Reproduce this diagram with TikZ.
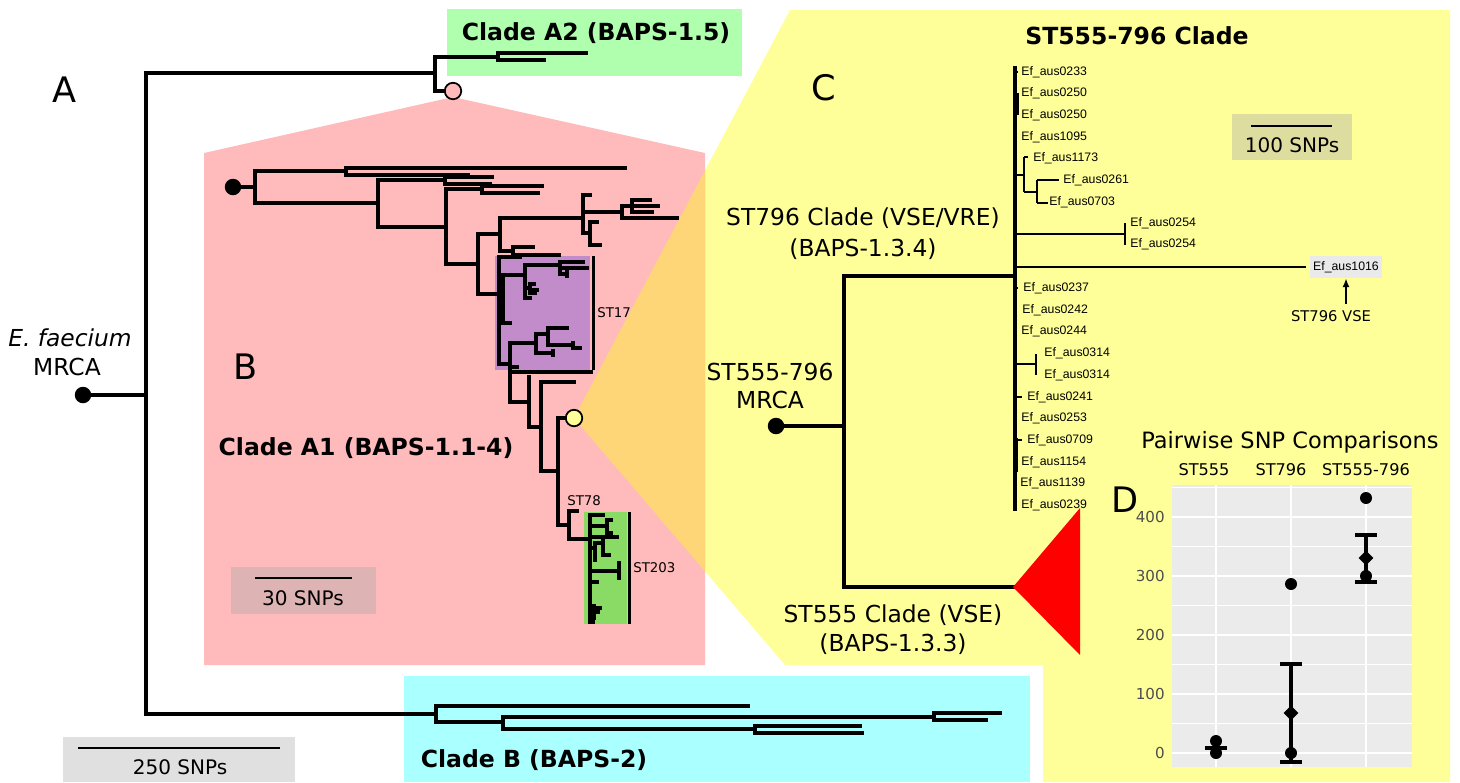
\documentclass[tikz,border=0pt]{standalone}
\usepackage{fontspec}
\setmainfont{DejaVu Sans}
\newfontfamily\liberfont{Liberation Sans}
\usetikzlibrary{arrows.meta,shapes.geometric}
\definecolor{yel}{HTML}{FFFF99}
\definecolor{pinkA}{HTML}{FFBBBB}
\definecolor{orangeA}{HTML}{FED678}
\definecolor{greenA}{HTML}{AFFFAF}
\definecolor{cyanB}{HTML}{AAFFFF}
\definecolor{purpleA}{HTML}{C28CCB}
\definecolor{greenB}{HTML}{8ADB66}
\definecolor{scaleW}{HTML}{E0E0E0}
\definecolor{scaleP}{HTML}{DDB3B3}
\definecolor{scaleY}{HTML}{DEDDA0}
\definecolor{panelD}{HTML}{EBEBEB}
\definecolor{tickD}{HTML}{4D4D4D}
\definecolor{boxE}{HTML}{EAEAEA}
\begin{document}
\begin{tikzpicture}[x=0.02cm,y=-0.02cm,
  brA/.style={line width=1.9pt, line cap=rect},
  brB/.style={line width=1.9pt, line cap=rect},
  brC/.style={line width=1.9pt, line cap=rect},
  brD/.style={line width=1.8pt, line cap=rect},
  dotnode/.style={circle, fill=black, inner sep=0pt, minimum size=0.33cm},
  ringnode/.style={circle, draw=black, line width=1pt, inner sep=0pt, minimum size=0.33cm},
  big/.style={font=\fontsize{13.3}{16}\selectfont, align=center},
  bigb/.style={font=\fontsize{13.4}{16}\selectfont\bfseries},
  letter/.style={font=\fontsize{20}{24}\selectfont},
  scl/.style={font=\fontsize{11.4}{13}\selectfont},
  small/.style={font=\fontsize{7.6}{9}\selectfont},
  ef/.style={font=\liberfont\fontsize{7}{8}\selectfont, anchor=west, inner sep=0pt},
  ptD/.style={circle, fill=black, inner sep=0pt, minimum size=0.24cm},
  diaD/.style={diamond, fill=black, inner sep=0pt, minimum size=0.3cm},
  tickl/.style={font=\fontsize{8.6}{10}\selectfont, text=tickD, anchor=east, inner sep=0pt}
]
\useasboundingbox (0,0) rectangle (1460,782);
% ---------- backgrounds ----------
\fill[yel] (790,10) -- (1450,10) -- (1450,782) -- (1043,782) -- (1043,665) -- (785,665) -- (574,418) -- cycle;
\fill[pinkA] (204,153) -- (453,97) -- (705,153) -- (705,665) -- (204,665) -- cycle;
\begin{scope}
  \clip (204,153) -- (453,97) -- (705,153) -- (705,665) -- (204,665) -- cycle;
  \fill[orangeA] (790,10) -- (1450,10) -- (1450,782) -- (1043,782) -- (1043,665) -- (785,665) -- (574,418) -- cycle;
\end{scope}
\fill[greenA] (447,9) rectangle (742,76);
\fill[cyanB] (404,676) rectangle (1030,782);
\fill[purpleA] (495,256) rectangle (590,370);
\fill[greenB] (584,512) rectangle (627,624);
\fill[scaleW] (63,737) rectangle (295,782);
\fill[scaleP] (231,567) rectangle (376,614);
\fill[scaleY] (1232,114) rectangle (1352,160);
\fill[panelD] (1172,485) rectangle (1412,767);
% panel D grid
\foreach \v in {50,150,250,350,450} \draw[white, line width=0.4pt] (1172,{753-0.59*\v}) -- (1412,{753-0.59*\v});
\foreach \v in {0,100,200,300,400} \draw[white, line width=0.9pt] (1172,{753-0.59*\v}) -- (1412,{753-0.59*\v});
\foreach \xx in {1216,1291,1366} \draw[white, line width=0.9pt] (\xx,485) -- (\xx,767);
% ---------- labels ----------
\node[letter] (labA) at (65,90) {A};
\node[letter] (labB) at (246,367) {B};
\node[letter] (labC) at (824,88) {C};
\node[letter] (labD) at (1125,500) {D};
\node[big] (efa) at (70,338) {\textit{E. faecium}};
\node[big] (efm) at (67,367) {MRCA};
\node[bigb] (cA2) at (596,33) {Clade A2 (BAPS-1.5)};
\node[bigb] (cA1) at (366,448) {Clade A1 (BAPS-1.1-4)};
\node[bigb] (cB) at (534,760) {Clade B (BAPS-2)};
\node[bigb] (cT) at (1137,36) {ST555-796 Clade};
\node[big] (c796a) at (863,218) {ST796 Clade (VSE/VRE)};
\node[big] (c796b) at (863,249) {(BAPS-1.3.4)};
\node[big] (c555a) at (893,615) {ST555 Clade (VSE)};
\node[big] (c555b) at (893,644) {(BAPS-1.3.3)};
\node[big] (mrca1) at (770,372) {ST555-796};
\node[big] (mrca2) at (770,400) {MRCA};
\node[small, anchor=west, inner sep=0pt] (st17) at (597,313) {ST17};
\node[small, anchor=west, inner sep=0pt] (st78) at (567,501) {ST78};
\node[small, anchor=west, inner sep=0pt] (st203) at (633,568) {ST203};
% ---------- scale bars ----------
\draw[line width=1.4pt] (78,748) -- (280,748);
\node[scl] (s250) at (180,767) {250 SNPs};
\draw[line width=1.4pt] (255,578) -- (352,578);
\node[scl] (s30) at (303,598) {30 SNPs};
\draw[line width=1.4pt] (1251,126) -- (1332,126);
\node[scl] (s100) at (1292,145) {100 SNPs};
% ---------- tree A ----------
\node[dotnode] (rootA) at (83,395) {};
\node[ringnode, fill=pinkA] (pinkc) at (453,91) {};
\draw[brA] (rootA.center) -- (146,395);
\draw[brA] (146,73) -- (146,714);
\draw[brA] (146,73) -- (435,73);
\draw[brA] (435,57) -- (435,91) -- (pinkc);
\draw[brD] (435,57) -- (498,57) (498,53) -- (498,60) (498,53) -- (586,53) (498,60) -- (544,60);
\draw[brA] (146,714) -- (436,714);
% clade B
\draw[brD] (436,706) -- (436,722) (436,706) -- (748,706) (436,722) -- (503,722)
  (503,717) -- (503,729) (503,717) -- (934,717) (934,713) -- (934,720) (934,713) -- (1000,713) (934,720) -- (986,720)
  (503,729) -- (755,729) (755,726) -- (755,733) (755,726) -- (860,726) (755,733) -- (862,733);
% ---------- tree B ----------
\node[dotnode] (rootB) at (233,187) {};
\node[ringnode, fill=yel] (yelc) at (574,418) {};
\draw[brB] (rootB.center) -- (255,187) (255,171) -- (255,203)
  (255,171) -- (346,171) (346,168) -- (346,175) (346,168) -- (625,168) (346,175) -- (468,175)
  (255,203) -- (378,203) (378,180) -- (378,227)
  (378,180) -- (445,180) (445,177) -- (445,184) (445,177) -- (492,177) (445,184) -- (490,184)
  (378,227) -- (446,227) (446,189) -- (446,264)
  (446,189) -- (482,189) (482,186) -- (482,193) (482,186) -- (542,186) (482,193) -- (538,193)
  (446,264) -- (478,264) (478,234) -- (478,294)
  (478,234) -- (500,234) (500,218) -- (500,251)
  (500,218) -- (583,218) (583,195) -- (583,233) (583,195) -- (590,195)
  (583,212) -- (622,212) (622,206) -- (622,218) (622,218) -- (677,218)
  (622,206) -- (632,206) (632,200) -- (632,212) (632,200) -- (650,200) (632,206) -- (658,206) (632,212) -- (652,212)
  (583,233) -- (590,233) (590,222) -- (590,245) (590,222) -- (597,222) (590,245) -- (600,245)
  (500,251) -- (513,251) (513,247) -- (513,255) (513,247) -- (533,247) (513,255) -- (559,255)
  (478,294) -- (499,294) (499,257) -- (499,364)
  (499,257) -- (520,257)
  (499,290) -- (503,290) (503,275) -- (503,323)
  (503,275) -- (525,275) (525,265) -- (525,298)
  (525,265) -- (560,265) (560,262) -- (560,274) (560,262) -- (583,262) (560,268) -- (587,268) (560,274) -- (567,274) (567,272) -- (567,276)
  (525,288) -- (530,288) (530,284) -- (530,293) (530,284) -- (534,284) (530,290) -- (537,290) (530,293) -- (535,293)
  (525,298) -- (530,298)
  (503,323) -- (510,323)
  (499,364) -- (510,364) (510,343) -- (510,402)
  (510,343) -- (536,343) (536,334) -- (536,353)
  (536,334) -- (548,334) (548,328) -- (548,345) (548,328) -- (567,328) (548,345) -- (573,345) (573,343) -- (573,348) (573,348) -- (580,348)
  (536,353) -- (553,353) (553,351) -- (553,355)
  (510,367) -- (517,367) (510,372) -- (591,372)
  (510,402) -- (529,402) (529,377) -- (529,427)
  (529,427) -- (541,427) (541,382) -- (541,471)
  (541,382) -- (574,382)
  (541,471) -- (558,471) (558,418) -- (558,525)
  (558,525) -- (569,525) (569,511) -- (569,539) (569,511) -- (577,511)
  (569,539) -- (590,539) (590,515) -- (590,622)
  (590,515) -- (603,515)
  (590,526) -- (607,526) (607,520) -- (607,533) (607,520) -- (611,520) (607,533) -- (611,533)
  (590,537) -- (617,537) (590,548) -- (595,548) (595,543) -- (595,560) (595,543) -- (603,543) (603,541) -- (603,555) (603,555) -- (609,555)
  (590,571) -- (619,571) (619,563) -- (619,578)
  (590,582) -- (597,582)
  (590,608) -- (600,608) (594,606) -- (594,618) (594,612) -- (598,612)
  (590,622) -- (593,622);
\draw[brB] (558,418) -- (yelc);
\draw[line width=1.7pt] (593,256) -- (593,370);
\draw[line width=1.7pt] (629,512) -- (629,624);
% ---------- tree C ----------
\node[dotnode] (rootC) at (776,426) {};
\draw[brC] (rootC.center) -- (844,426) (844,276) -- (844,587) (844,276) -- (1015,276) (844,587) -- (1013,587);
\fill[red] (1013,587) -- (1080,508) -- (1080,655) -- cycle;
\draw[brC] (1015,68) -- (1015,509);
\draw[line width=1.6pt]
  (1015,72) -- (1018,72) (1018,93) -- (1018,115) (1015,104) -- (1018,104) (1015,137) -- (1017,137)
  (1015,175) -- (1024,175) (1024,157) -- (1024,192) (1024,157) -- (1028,157) (1024,192) -- (1037,192)
  (1037,180) -- (1037,203) (1037,180) -- (1059,180) (1037,203) -- (1048,203)
  (1015,234) -- (1125,234) (1125,223) -- (1125,245)
  (1015,267) -- (1306,267)
  (1015,288) -- (1018,288) (1015,310) -- (1017,310) (1015,331) -- (1017,331)
  (1015,364) -- (1036,364) (1036,354) -- (1036,375)
  (1015,397) -- (1022,397) (1015,418) -- (1017,418) (1015,440) -- (1022,440) (1017,438) -- (1017,472);
\node[ef] (e1) at (1021,72) {Ef\_aus0233};
\node[ef] (e2) at (1021,93) {Ef\_aus0250};
\node[ef] (e3) at (1021,115) {Ef\_aus0250};
\node[ef] (e4) at (1021,137) {Ef\_aus1095};
\node[ef] (e5) at (1033,158) {Ef\_aus1173};
\node[ef] (e6) at (1063,180) {Ef\_aus0261};
\node[ef] (e7) at (1049,202) {Ef\_aus0703};
\node[ef] (e8) at (1130,223) {Ef\_aus0254};
\node[ef] (e9) at (1130,244) {Ef\_aus0254};
\node[ef] (e10) at (1023,288) {Ef\_aus0237};
\node[ef] (e11) at (1022,310) {Ef\_aus0242};
\node[ef] (e12) at (1021,331) {Ef\_aus0244};
\node[ef] (e13) at (1044,353) {Ef\_aus0314};
\node[ef] (e14) at (1044,375) {Ef\_aus0314};
\node[ef] (e15) at (1027,397) {Ef\_aus0241};
\node[ef] (e16) at (1021,418) {Ef\_aus0253};
\node[ef] (e17) at (1027,440) {Ef\_aus0709};
\node[ef] (e18) at (1021,462) {Ef\_aus1154};
\node[ef] (e19) at (1020,483) {Ef\_aus1139};
\node[ef] (e20) at (1021,505) {Ef\_aus0239};
\node[font=\liberfont\fontsize{7}{8}\selectfont, fill=boxE, inner xsep=2pt, inner ysep=3pt] (e1016) at (1346,267) {Ef\_aus1016};
\node[font=\fontsize{8.4}{10}\selectfont] (vse) at (1331,316) {ST796 VSE};
\draw[line width=1pt, -{Latex[length=5pt,width=4pt]}] (vse.north -| e1016) -- (e1016.south);
% ---------- panel D ----------
\node[font=\fontsize{12.8}{15}\selectfont] (dT) at (1290,442) {Pairwise SNP Comparisons};
\node[font=\fontsize{9.2}{11}\selectfont] (h1) at (1204,470) {ST555};
\node[font=\fontsize{9.2}{11}\selectfont] (h2) at (1281,470) {ST796};
\node[font=\fontsize{9.2}{11}\selectfont] (h3) at (1366,470) {ST555-796};
\foreach \v in {0,100,200,300,400} \node[tickl] at (1165,{753-0.59*\v}) {\v};
% ST555
\node[ptD] (p1) at (1216,753) {};
\node[ptD] (p2) at (1216,741) {};
\draw[line width=2.2pt] (1205,748) -- (1227,748);
% ST796
\draw[line width=1.8pt] (1291,664) -- (1291,762) (1280,664) -- (1302,664) (1280,762) -- (1302,762);
\node[ptD] (p3) at (1291,584) {};
\node[ptD] (p4) at (1291,753) {};
\node[diaD] (d2) at (1291,713) {};
% ST555-796
\draw[line width=1.8pt] (1366,535) -- (1366,582) (1355,535) -- (1377,535) (1355,582) -- (1377,582);
\node[ptD] (p5) at (1366,498) {};
\node[ptD] (p6) at (1366,576) {};
\node[diaD] (d3) at (1366,558) {};
\end{tikzpicture}
\end{document}
